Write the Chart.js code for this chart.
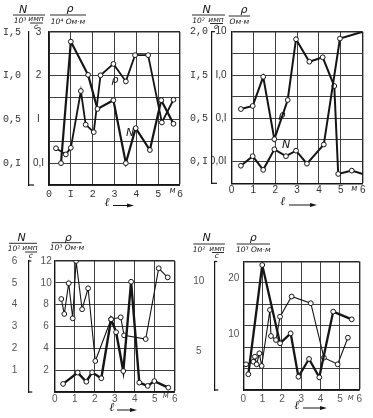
<!DOCTYPE html>
<html>
<head>
<meta charset="utf-8">
<script src="https://cdn.jsdelivr.net/npm/chart.js@4.4.1/dist/chart.umd.min.js"></script>
<style>
  body { margin: 0; background: #fff; }
  #sheet { position: relative; width: 373px; height: 418px; overflow: hidden; }
  #sheet canvas { position: absolute; }
</style>
</head>
<body>
<div id="sheet">
  <canvas id="c1" width="186" height="210" style="left:0;top:0"></canvas>
  <canvas id="c2" width="187" height="210" style="left:186px;top:0"></canvas>
  <canvas id="c3" width="186" height="208" style="left:0;top:210px"></canvas>
  <canvas id="c4" width="187" height="208" style="left:186px;top:210px"></canvas>
</div>
<script>
// panel 1: rho in 10^4 Ohm*m, N in 10^3 imp/s
const p1RhoX = [0.32, 0.77, 1.0, 1.46, 1.68, 2.05, 2.36, 2.95, 3.52, 3.94, 4.54, 5.17, 5.70];
const p1Rho  = [0.34, 0.20, 0.35, 1.65, 0.88, 0.71, 2.01, 2.27, 1.87, 2.47, 2.47, 0.93, 1.45];
const p1NX   = [0.55, 1.0, 1.79, 2.22, 2.95, 3.52, 3.97, 4.62, 5.14, 5.70];
const p1N    = [0.0, 1.39, 1.01, 0.62, 0.72, 0.0, 0.40, 0.15, 0.72, 0.45];
const p1RhoTicks = [3, 2, 1, 0];
const p1RhoLabels = ['3', '2', 'I', '0,I'];
const p1NTicks = [1.5, 1, 0.5, 0];
const p1NLabels = ['I,5', 'I,0', '0,5', '0,I'];
const p1XLabels = ['0', 'I', '2', '3', '4', '5', '6'];

// panel 2: rho in Ohm*m (log), N in 10^2 imp/s
const p2RhoX = [0.43, 0.97, 1.45, 1.96, 2.57, 2.95, 3.56, 4.17, 4.70, 4.88, 5.50, 6.0];
const p2Rho  = [0.164, 0.193, 0.91, 0.033, 0.265, 6.7, 2.03, 2.57, 0.557, 0.0052, 0.0062, 0.0052];
const p2NX   = [0.43, 0.97, 1.45, 1.96, 2.49, 2.95, 3.45, 4.22, 4.96, 6.0];
const p2N    = [0.04, 0.18, -0.02, 0.28, 0.18, 0.26, 0.07, 0.35, 1.9, 2.0];
const p2RhoTicks = [10, 1, 0.1, 0.01];
const p2RhoLabels = ['10', 'I,0', '0,I', '0,0I'];
const p2NTicks = [2.0, 1.3667, 0.7333, 0.1];
const p2NLabels = ['2,0', 'I,5', '0,5', '0,I'];
const xLabels = ['0', '1', '2', '3', '4', '5', '6'];

// panel 3: rho in 10^3 Ohm*m, N in 10^2 imp/s
const p3RhoX = [0.33, 0.48, 0.70, 0.90, 1.07, 1.37, 1.67, 2.03, 2.82, 3.30, 3.47, 4.55, 5.20, 5.65];
const p3Rho  = [8.52, 7.15, 9.96, 6.75, 12.0, 7.58, 9.5, 2.84, 6.66, 6.84, 5.19, 4.85, 11.33, 10.5];
const p3NX   = [0.42, 1.15, 1.58, 1.87, 2.33, 2.82, 3.07, 3.43, 3.82, 4.23, 4.65, 4.98, 5.68];
const p3N    = [0.37, 0.89, 0.47, 0.90, 0.63, 3.33, 2.74, 0.96, 5.05, 0.43, 0.28, 0.50, 0.20];
const p3RhoTicks = [12, 10, 8, 6, 4, 2];
const p3NTicks = [6, 5, 4, 3, 2, 1];

// panel 4: rho in 10^3 Ohm*m, N in 10^2 imp/s
const p4RhoX = [0.14, 0.52, 0.60, 0.69, 0.83, 0.95, 1.38, 1.43, 1.69, 1.90, 2.50, 3.49, 4.17, 4.88, 5.41];
const p4Rho  = [4.59, 5.05, 5.95, 4.59, 6.55, 4.29, 14.3, 9.64, 8.93, 13.1, 16.7, 15.5, 5.77, 4.59, 9.34];
const p4NX   = [0.26, 0.98, 1.90, 2.45, 2.85, 3.40, 3.93, 4.65, 5.61];
const p4N    = [3.34, 11.14, 5.55, 6.26, 3.16, 4.43, 3.12, 7.81, 7.26];
const p4RhoTicks = [20, 10];
const p4NTicks = [10, 5];

const ink = '#151515';
const gridCol = '#2a2a2a';
const mono = { family: 'Liberation Mono', size: 10 };
const sans = { family: 'Liberation Sans', size: 10 };
const bigF = 'italic 11px "DejaVu Sans"';
const smallF = 'italic 7.5px "DejaVu Sans"';

const panels = [
  {
    id: 'c1', w: 186, h: 210, area: { l: 49, r: 182, t: 32, b: 185 }, bracket: 29, rows: 7,
    rho: { type: 'linear', min: -0.5, max: 3, ticks: p1RhoTicks, labels: p1RhoLabels, align: 'center', pad: 5, font: sans },
    n: { min: -0.25, max: 1.5, ticks: p1NTicks, labels: p1NLabels, pad: 8, font: mono },
    xLabels: p1XLabels, xFont: mono, xPad: 3, tickCol: '#333',
    series: [
      { x: p1NX, y: p1N, axis: 'n', width: 2.2 },
      { x: p1RhoX, y: p1Rho, axis: 'rho', width: 1.8 }
    ],
    feet: { top: false, bottom: 5 },
    head: [
      ['N', 23, 10, bigF], ['bar', 13, 45, 15], ['10³', 20, 21, smallF], ['имп', 36, 19.5, smallF],
      ['bar', 30, 43, 23], ['c', 36, 27, smallF],
      ['ρ', 70, 9.5, bigF], ['bar', 50, 86, 15], ['10⁴ Ом·м', 68, 22, smallF],
      ['ρ', 115, 80, bigF], ['N', 130, 133, bigF]
    ],
    ell: [107, 202.5, 113, 130, 205.5], unit: [172.5, 191]
  },
  {
    id: 'c2', w: 187, h: 210, area: { l: 45.5, r: 176.7, t: 31.7, b: 183.3 }, bracket: 26, rows: 7,
    rho: { type: 'logarithmic', min: Math.pow(10, -2.5), max: 10, ticks: p2RhoTicks, labels: p2RhoLabels, align: 'near', pad: 5, font: sans },
    n: { min: -0.2167, max: 2.0, ticks: p2NTicks, labels: p2NLabels, pad: 4, font: mono },
    xLabels: xLabels, xFont: sans, xPad: 1, tickCol: '#333',
    series: [
      { x: p2NX, y: p2N, axis: 'n', width: 2, open: true },
      { x: p2RhoX, y: p2Rho, axis: 'rho', width: 2, open: true }
    ],
    feet: { top: true, bottom: 5 },
    head: [
      ['N', 20.7, 10, bigF], ['bar', 6, 39, 15], ['10²', 12.5, 21, smallF], ['имп', 30, 20, smallF],
      ['bar', 24, 37, 23.5], ['c', 30, 27, smallF],
      ['ρ', 58, 10, bigF], ['bar', 42.7, 64, 16], ['Ом·м', 53.3, 22.5, smallF],
      ['ρ', 96, 115, bigF], ['N', 100, 145, bigF]
    ],
    ell: [96.7, 202, 103, 127, 205], unit: [168.3, 189]
  },
  {
    id: 'c3', w: 186, h: 208, area: { l: 54.7, r: 174.7, t: 51, b: 182 }, bracket: 28.3, rows: 6,
    rho: { type: 'linear', min: 0, max: 12, ticks: p3RhoTicks, labels: p3RhoTicks.map(String), align: 'center', pad: 3, font: sans },
    n: { min: 0, max: 6, ticks: p3NTicks, labels: p3NTicks.map(String), pad: 11, font: sans },
    xLabels: xLabels, xFont: sans, xPad: 1, tickCol: '#555',
    series: [
      { x: p3NX, y: p3N, axis: 'n', width: 2.4 },
      { x: p3RhoX, y: p3Rho, axis: 'rho', width: 1.1 }
    ],
    feet: { top: true, bottom: 4 },
    head: [
      ['N', 21.7, 27.7, bigF], ['bar', 9, 37, 33.3], ['10²', 14, 39.3, smallF], ['имп', 30, 38.5, smallF],
      ['bar', 25, 37, 42], ['c', 30.7, 46.5, smallF],
      ['ρ', 68.3, 27.7, bigF], ['bar', 51.7, 81.7, 32.7], ['10³ Ом·м', 67, 38.5, smallF]
    ],
    ell: [111.7, 197.7, 117, 133, 200], unit: [165.7, 185.5]
  },
  {
    id: 'c4', w: 187, h: 208, area: { l: 57.3, r: 173.3, t: 51.5, b: 180 }, bracket: 28.3, rows: 6,
    rho: { type: 'linear', min: 0, max: 22.95, ticks: p4RhoTicks, labels: p4RhoTicks.map(String), align: 'near', pad: 4, font: sans },
    n: { min: 2.214, max: 11.39, ticks: p4NTicks, labels: p4NTicks.map(String), pad: 10, font: sans, align: 'center' },
    xLabels: xLabels, xFont: sans, xPad: 3, tickCol: '#555',
    series: [
      { x: p4NX, y: p4N, axis: 'n', width: 2.3 },
      { x: p4RhoX, y: p4Rho, axis: 'rho', width: 1.1 }
    ],
    feet: { top: true, bottom: 4 },
    head: [
      ['N', 20.7, 27.7, bigF], ['bar', 7.3, 39, 34], ['10²', 13, 40, smallF], ['имп', 31, 39, smallF],
      ['bar', 26, 38, 42.5], ['c', 30.7, 46.5, smallF],
      ['ρ', 67.3, 27.7, bigF], ['bar', 50.7, 84, 34], ['10³ Ом·м', 67.3, 40, smallF]
    ],
    ell: [110.7, 196, 117, 137, 198], unit: [164.7, 187.5]
  }
];

function seg(ctx, x1, y1, x2, y2, w) {
  ctx.lineWidth = w;
  ctx.beginPath();
  ctx.moveTo(x1, y1);
  ctx.lineTo(x2, y2);
  ctx.stroke();
}

function decorFor(p) {
  return {
    id: 'decor',
    afterDraw(chart) {
      const ctx = chart.ctx;
      const a = chart.chartArea;
      ctx.save();
      ctx.strokeStyle = ink;
      ctx.fillStyle = ink;
      ctx.textAlign = 'center';
      ctx.textBaseline = 'middle';
      // feet of the N bracket
      const bx = chart.scales.n.right;
      seg(ctx, bx, a.bottom, bx + p.feet.bottom, a.bottom, 1.2);
      if (p.feet.top) seg(ctx, bx, a.top, bx + 3, a.top, 1.2);
      // axis headings
      p.head.forEach(h => {
        if (h[0] === 'bar') { seg(ctx, h[1], h[3], h[2], h[3], 0.9); return; }
        ctx.font = h[3];
        ctx.fillText(h[0], h[1], h[2]);
      });
      // l ->
      const [lx, ly, ax1, ax2, ay] = p.ell;
      ctx.font = 'italic 12px "DejaVu Serif"';
      ctx.fillText('ℓ', lx, ly);
      seg(ctx, ax1, ay, ax2, ay, 1);
      ctx.beginPath();
      ctx.moveTo(ax2 + 4, ay);
      ctx.lineTo(ax2 - 3, ay - 2);
      ctx.lineTo(ax2 - 3, ay + 2);
      ctx.closePath();
      ctx.fill();
      // metre unit
      ctx.font = 'italic 8px "DejaVu Sans"';
      ctx.fillStyle = p.tickCol;
      ctx.fillText('м', p.unit[0], p.unit[1]);
      ctx.restore();
    }
  };
}

function makeChart(p) {
  const datasets = p.series.map(s => ({
    data: s.x.map((x, i) => ({ x: x, y: s.y[i] })),
    yAxisID: s.axis,
    borderColor: ink,
    borderWidth: s.width,
    pointRadius: s.x.map((x, i) => (s.open && i === s.x.length - 1) ? 0 : 2.4),
    pointBackgroundColor: '#fff',
    pointBorderColor: ink,
    pointBorderWidth: 1,
    tension: 0,
    fill: false
  }));

  const frameW = (v, last) => (v === last ? 1.4 : 0.9);

  new Chart(document.getElementById(p.id), {
    type: 'line',
    data: { datasets },
    options: {
      responsive: false,
      animation: false,
      devicePixelRatio: 1,
      layout: { padding: { left: 0, top: p.area.t, right: p.w - p.area.r, bottom: 0 } },
      plugins: { legend: { display: false }, tooltip: { enabled: false } },
      scales: {
        x: {
          type: 'linear', position: 'bottom', min: 0, max: 6,
          afterFit: ax => { ax.height = p.h - p.area.b; },
          ticks: {
            stepSize: 1, autoSkip: false, maxRotation: 0, padding: p.xPad,
            color: p.tickCol, font: p.xFont,
            callback: v => p.xLabels[Math.round(v)]
          },
          grid: { color: gridCol, drawTicks: false, lineWidth: c => frameW(c.tick && c.tick.value, 6) },
          border: { color: ink, width: 1.4 }
        },
        g: {
          type: 'linear', position: 'left', weight: 0, min: 0, max: p.rows,
          afterFit: ax => { ax.width = 0; },
          ticks: { display: false, stepSize: 1 },
          grid: { color: gridCol, drawTicks: false, lineWidth: c => frameW(c.tick && c.tick.value, p.rows) },
          border: { color: ink, width: 1.4 }
        },
        rho: {
          type: p.rho.type, position: 'left', weight: 1, min: p.rho.min, max: p.rho.max,
          afterFit: ax => { ax.width = p.area.l - p.bracket; },
          afterBuildTicks: ax => { ax.ticks = p.rho.ticks.map(v => ({ value: v })); },
          ticks: {
            autoSkip: false, padding: p.rho.pad, crossAlign: p.rho.align,
            color: p.tickCol, font: p.rho.font,
            callback: (v, i) => p.rho.labels[i]
          },
          grid: { display: false, drawTicks: false },
          border: { display: false }
        },
        n: {
          type: 'linear', position: 'left', weight: 2, min: p.n.min, max: p.n.max,
          afterFit: ax => { ax.width = p.bracket; },
          afterBuildTicks: ax => { ax.ticks = p.n.ticks.map(v => ({ value: v })); },
          ticks: {
            autoSkip: false, padding: p.n.pad, crossAlign: p.n.align || 'near',
            color: p.tickCol, font: p.n.font,
            callback: (v, i) => p.n.labels[i]
          },
          grid: { display: false, drawTicks: false },
          border: { display: true, color: ink, width: 1.2 }
        }
      }
    },
    plugins: [decorFor(p)]
  });
}

panels.forEach(makeChart);
</script>
</body>
</html>
